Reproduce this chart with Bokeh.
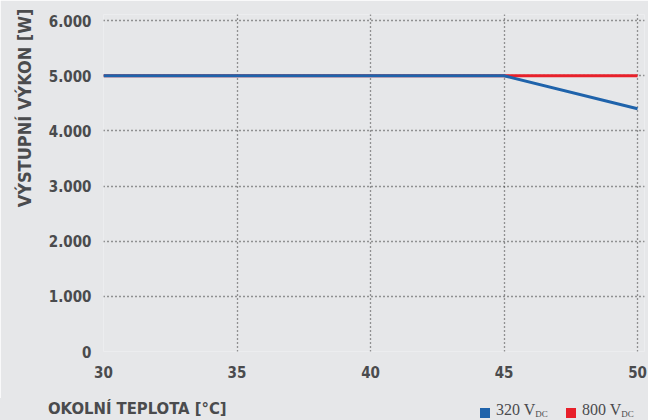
from bokeh.plotting import figure
from bokeh.models import FixedTicker, Range1d, Title, Div
from bokeh.layouts import column
from bokeh.embed import file_html
from bokeh.resources import INLINE

temps = [30, 45, 50]
power_320 = [5000, 5000, 4400]
power_800 = [5000, 5000, 5000]
x_ticks = [30, 35, 40, 45, 50]
y_ticks = [0, 1000, 2000, 3000, 4000, 5000, 6000]
y_tick_labels = ["0", "1.000", "2.000", "3.000", "4.000", "5.000", "6.000"]
series_names = ["320", "800"]
x_title = "OKOLNÍ TEPLOTA [°C]"
y_title = "VÝSTUPNÍ VÝKON [W]"

BG = "#e6e7e9"
TXT = "#4a4b4d"
BLUE = "#1f63ab"
RED = "#e8202a"
FONT = "DejaVu Sans Condensed"

p = figure(width=648, height=398, output_backend="svg", toolbar_location=None,
           x_range=Range1d(30, 50.26), y_range=Range1d(0, 6110),
           min_border_left=102, min_border_right=4, min_border_top=14, min_border_bottom=47)
p.background_fill_color = BG
p.border_fill_color = BG
p.outline_line_color = None

p.line(temps, power_800, line_color=RED, line_width=3)
p.line(temps, power_320, line_color=BLUE, line_width=3)

for ax in (p.xaxis[0], p.yaxis[0]):
    ax.axis_line_color = None
    ax.major_tick_line_color = None
    ax.minor_tick_line_color = None
    ax.major_label_text_font = FONT
    ax.major_label_text_font_style = "bold"
    ax.major_label_text_font_size = "15px"
    ax.major_label_text_color = TXT

p.xaxis.ticker = FixedTicker(ticks=x_ticks)
p.yaxis.ticker = FixedTicker(ticks=y_ticks)
p.yaxis.major_label_overrides = {t: l for t, l in zip(y_ticks, y_tick_labels)}
p.xaxis.major_label_standoff = 8
p.yaxis.major_label_standoff = 6

for g in (p.xgrid[0], p.ygrid[0]):
    g.grid_line_color = "#3a3a3a"
    g.grid_line_dash = "1 3"
    g.grid_line_width = 1.3

p.add_layout(Title(text=y_title, align="right", offset=-6, standoff=22,
                   text_font=FONT, text_font_style="bold", text_font_size="18px",
                   text_color=TXT), "left")

legend_html = ""
for name, col, xx in [(series_names[0], BLUE, 480), (series_names[1], RED, 566)]:
    legend_html += (
        f'<span style="position:absolute;left:{xx}px;top:10px;width:10px;height:10px;'
        f'background:{col};"></span>'
        f'<span style="position:absolute;left:{xx + 16}px;top:4px;white-space:nowrap;'
        f'line-height:16px;font-family:\'Liberation Serif\';font-size:16px;color:{TXT};">'
        f'{name} V<span style="font-size:9px;vertical-align:-2px;color:{TXT};">DC</span></span>'
    )

html = (
    f'<div style="position:relative;width:648px;height:22px;background:{BG};">'
    f'<span style="position:absolute;left:48px;top:1px;white-space:nowrap;line-height:20px;'
    f'font-family:\'{FONT}\';font-weight:bold;font-size:16.5px;color:{TXT};">{x_title}</span>'
    f'{legend_html}</div>'
)
div = Div(text=html, width=648, height=22, margin=0, styles={"background-color": BG})

layout = column(p, div, spacing=0)
open("out.html", "w").write(file_html(layout, INLINE))
